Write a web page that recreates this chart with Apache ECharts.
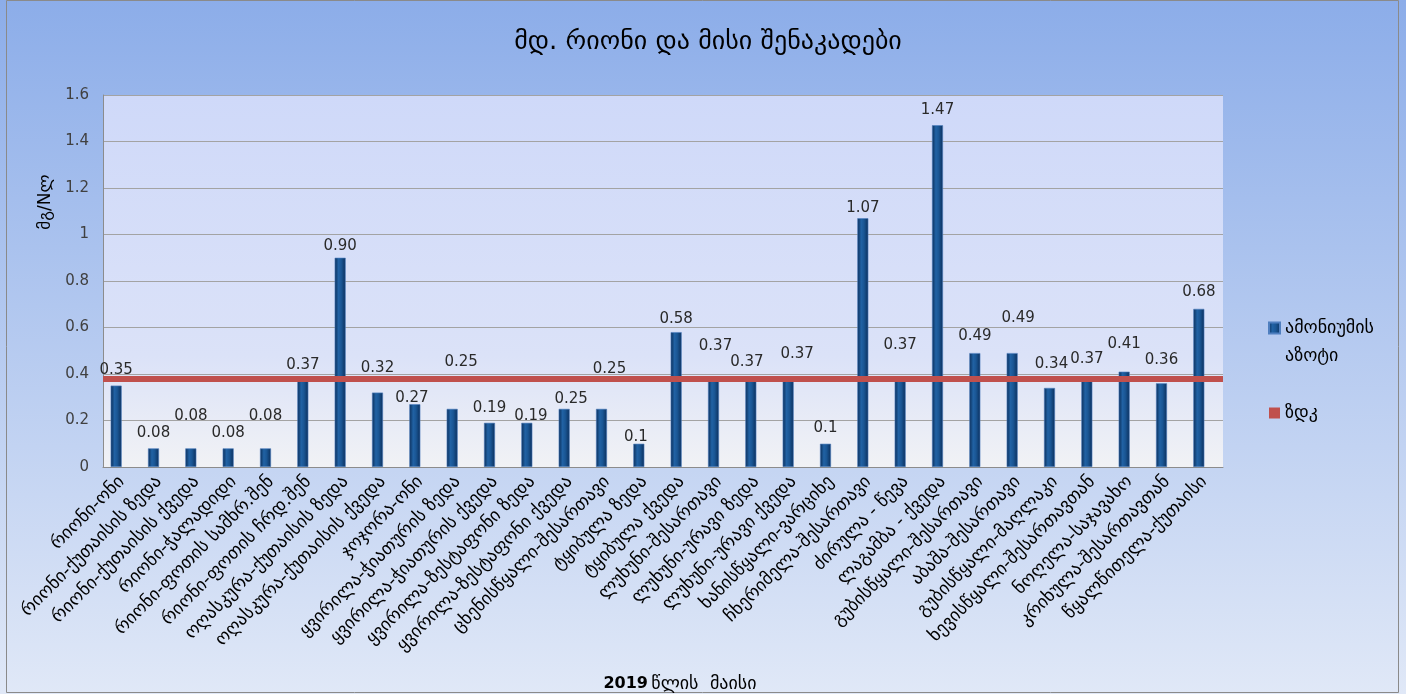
<!DOCTYPE html>
<html>
<head>
<meta charset="utf-8">
<script src="https://cdn.jsdelivr.net/npm/echarts@6/dist/echarts.min.js"></script>
<style>
  html, body { margin: 0; padding: 0; background: #ffffff; }
  #chart { width: 1406px; height: 694px; }
</style>
</head>
<body>
<div id="chart"></div>
<script>
// Sampling points along the Rioni and its tributaries
const categories = [
  'რიონი-ონი',
  'რიონი-ქუთაისის ზედა',
  'რიონი-ქუთაისის ქვედა',
  'რიონი-ჭალადიდი',
  'რიონი-ფოთის სამხრ.შენ',
  'რიონი-ფოთის ჩრდ.შენ',
  'ოღასკურა-ქუთაისის ზედა',
  'ოღასკურა-ქუთაისის ქვედა',
  'ჯოჯორა-ონი',
  'ყვირილა-ჭიათურის ზედა',
  'ყვირილა-ჭიათურის ქვედა',
  'ყვირილა-ზესტაფონი ზედა',
  'ყვირილა-ზესტაფონი ქვედა',
  'ცხენისწყალი-შესართავი',
  'ტყიბულა ზედა',
  'ტყიბულა ქვედა',
  'ლუხუნი-შესართავი',
  'ლუხუნი-ურავი ზედა',
  'ლუხუნი-ურავი ქვედა',
  'ხანისწყალი-ვარციხე',
  'ჩხერიმელა-შესართავი',
  'ძირულა - წევა',
  'ლაგამბა - ქვედა',
  'გუბისწყალი-შესართავი',
  'აბაშა-შესართავი',
  'გუბისწყალი-მაღლაკი',
  'ხევისწყალი-შესართავთან',
  'ნოღელა-საჯავახო',
  'კრიხულა-შესართავთან',
  'წყალწითელა-ქუთაისი'
];

// Ammonium nitrogen, mg/l
const ammoniumValues = [
  0.35, 0.08, 0.08, 0.08, 0.08, 0.37, 0.90, 0.32, 0.27, 0.25,
  0.19, 0.19, 0.25, 0.25, 0.10, 0.58, 0.37, 0.37, 0.37, 0.10,
  1.07, 0.37, 1.47, 0.49, 0.49, 0.34, 0.37, 0.41, 0.36, 0.68
];

// Value labels as printed above the bars
const valueLabels = [
  '0.35', '0.08', '0.08', '0.08', '0.08', '0.37', '0.90', '0.32', '0.27', '0.25',
  '0.19', '0.19', '0.25', '0.25', '0.1', '0.58', '0.37', '0.37', '0.37', '0.1',
  '1.07', '0.37', '1.47', '0.49', '0.49', '0.34', '0.37', '0.41', '0.36', '0.68'
];

// Maximum allowable concentration
const zdkLevel = 0.38;

const seriesNames = ['ამონიუმის\nაზოტი', 'ზდკ'];
const chartTitle = 'მდ. რიონი და მისი შენაკადები';
const yAxisTitle = 'მგ/Nლ';
const xAxisYear = '2019';
const xAxisMonth = 'წლის  მაისი';

// Hand-placed label nudges [dx, dy] so neighbouring labels do not collide
const labelNudge = [
  [0, 0], [0, 0], [0, -17], [0, 0], [0, -17], [0, 0], [0, 4], [0, -9], [-3, 9], [9, -31],
  [0, 1], [4, 9], [7, 6], [8, -24], [-3, 9], [0, 2], [2, -19], [-4, -3], [9, -11], [0, 0],
  [0, 5], [0, -20], [0, 0], [0, -1], [6, -19], [2, -8], [0, -6], [0, -12], [0, -8], [0, -1]
];

const FONT = '"DejaVu Sans", sans-serif';

const barColor = new echarts.graphic.LinearGradient(0, 0, 1, 0, [
  { offset: 0, color: '#0a2d58' },
  { offset: 0.35, color: '#2162a4' },
  { offset: 0.6, color: '#1a5694' },
  { offset: 1, color: '#0b2f5c' }
]);

const barData = ammoniumValues.map((v, i) => ({
  value: v,
  label: { formatter: valueLabels[i], offset: labelNudge[i] }
}));

const chart = echarts.init(document.getElementById('chart'), null, { renderer: 'canvas' });

chart.setOption({
  backgroundColor: new echarts.graphic.LinearGradient(0, 0, 0, 1, [
    { offset: 0, color: '#8cade9' },
    { offset: 1, color: '#e0e8f7' }
  ]),
  animation: false,
  title: {
    text: chartTitle,
    left: 703,
    top: 24,
    textAlign: 'center',
    textStyle: { fontFamily: FONT, fontSize: 26, fontWeight: 'normal', color: '#000000' }
  },
  legend: {
    orient: 'vertical',
    left: 1263,
    top: 281,
    itemGap: 29,
    itemWidth: 11,
    itemHeight: 11,
    icon: 'rect',
    // a blank first line keeps the marker level with the first line of a two-line name
    formatter: name => (name.indexOf('\n') >= 0 ? '\n' + name : name),
    textStyle: { fontFamily: FONT, fontSize: 18, color: '#000000', lineHeight: 28 },
    data: seriesNames
  },
  grid: {
    left: 103,
    right: 183,
    top: 95,
    bottom: 227,
    show: true,
    borderWidth: 0,
    backgroundColor: new echarts.graphic.LinearGradient(0, 0, 0, 1, [
      { offset: 0, color: '#cfd9f9' },
      { offset: 0.7, color: '#dbe2f8' },
      { offset: 1, color: '#f1f2f5' }
    ])
  },
  xAxis: {
    type: 'category',
    data: categories,
    axisLine: { show: true, lineStyle: { color: '#8c8c8c', width: 1 } },
    axisTick: { show: false },
    axisLabel: {
      interval: 0,
      rotate: 45,
      margin: 12,
      fontFamily: FONT,
      fontSize: 18,
      color: '#000000'
    }
  },
  yAxis: {
    type: 'value',
    min: 0,
    max: 1.6,
    interval: 0.2,
    axisLine: { show: true, lineStyle: { color: '#8c8c8c', width: 1 } },
    axisTick: { show: false },
    splitLine: { show: true, lineStyle: { color: '#a3a3a3', width: 1 } },
    axisLabel: {
      margin: 14,
      fontFamily: FONT,
      fontSize: 15,
      color: '#404040'
    }
  },
  series: [
    {
      name: seriesNames[0],
      type: 'bar',
      barWidth: 11,
      barGap: '0%',
      itemStyle: { color: barColor, borderColor: '#4f7fbf', borderWidth: 0.6 },
      label: {
        show: true,
        position: 'top',
        distance: 8,
        fontFamily: FONT,
        fontSize: 15,
        color: '#2a2a2a'
      },
      data: barData
    },
    {
      name: seriesNames[1],
      type: 'bar',
      barWidth: 11,
      itemStyle: { color: '#c0504d' },
      data: [],
      markLine: {
        silent: true,
        symbol: 'none',
        label: { show: false },
        lineStyle: { color: '#c0504d', width: 6, type: 'solid' },
        data: [{ yAxis: zdkLevel }]
      }
    }
  ],
  graphic: [
    {
      type: 'rect',
      shape: { x: 6.5, y: 0.5, width: 1392, height: 692 },
      style: { fill: 'none', stroke: '#8a8a8a', lineWidth: 1 },
      silent: true
    },
    {
      type: 'text',
      x: 46,
      y: 202,
      rotation: Math.PI / 2,
      style: {
        text: yAxisTitle,
        font: '17px ' + FONT,
        fill: '#000000',
        align: 'center',
        verticalAlign: 'middle'
      }
    },
    {
      type: 'text',
      x: 680,
      y: 684,
      style: {
        text: '{y|' + xAxisYear + '} {m|' + xAxisMonth + '}',
        align: 'center',
        verticalAlign: 'middle',
        rich: {
          y: { fontFamily: FONT, fontSize: 16, fontWeight: 'bold', fill: '#000000' },
          m: { fontFamily: FONT, fontSize: 18, fill: '#000000' }
        }
      }
    }
  ]
});
</script>
</body>
</html>
